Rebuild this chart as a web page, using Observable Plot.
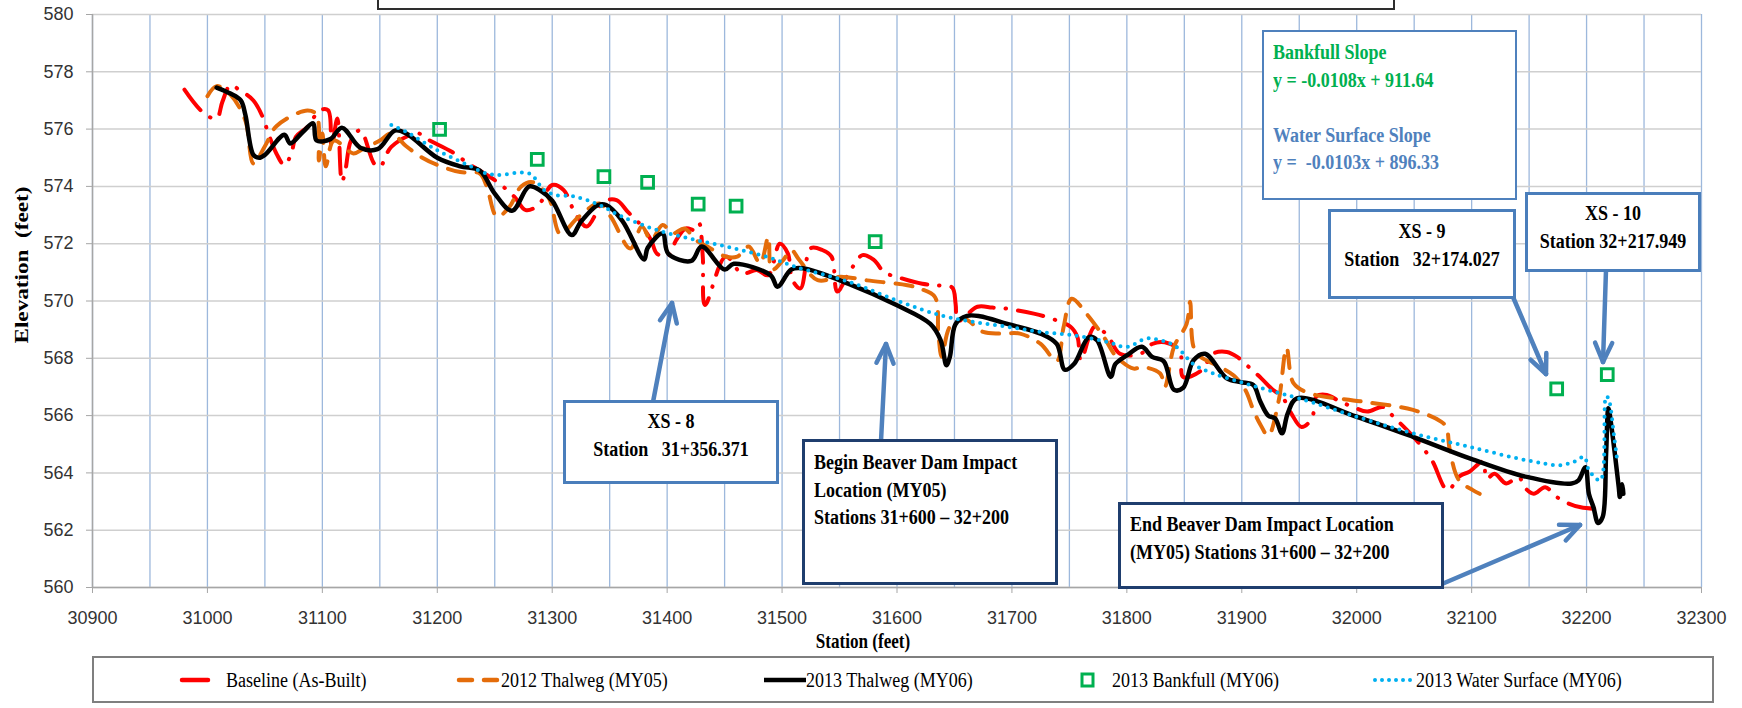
<!DOCTYPE html>
<html>
<head>
<meta charset="utf-8">
<script src="https://cdn.jsdelivr.net/npm/d3@7"></script>
<script src="https://cdn.jsdelivr.net/npm/@observablehq/plot@0.6"></script>
<style>
  body { margin: 0; background: #fff; }
  #wrap { position: relative; width: 1742px; height: 708px; overflow: hidden; background: #fff;
          font-family: "Liberation Serif", "Times New Roman", serif; }
  #chart { position: absolute; left: 0; top: 0; }
  .box { position: absolute; box-sizing: border-box; background: #fff; font-weight: bold;
         white-space: pre; color: #000; }
  .box .in { font-size: 20px; line-height: 27.5px; transform: scaleX(0.9); transform-origin: left top; }
  .box.center .in { text-align: center; transform-origin: center top; }
  .lg { position: absolute; font-size: 20px; line-height: 24px; white-space: pre; color: #000; top: 668px;
        transform: scaleX(0.9); transform-origin: left top; }
  .axtitle { position: absolute; font-weight: bold; font-size: 19px; white-space: pre; color: #000; line-height: 20px; }
</style>
</head>
<body>
<div id="wrap">
  <div id="chart"></div>
</div>
<script>
// ---------- data ----------
const xTicks = d3.range(30900, 32301, 100);
const xGrid = d3.range(30900, 32301, 50);
const yTicks = d3.range(560, 581, 2);

// Baseline (As-Built)
const baselineStation = [30980,30997,31008,31013,31020,31028,31040,31048,31053,31060,31067,31073,31077,31087,31098,31105,31108,31113,31117,31120,31125,31133,31145,31150,31160,31183,31193,31213,31227,31250,31267,31277,31288,31300,31310,31320,31330,31345,31356,31366,31376,31386,31391,31400,31408,31416,31425,31428,31431,31433,31451,31465,31478,31488,31498,31505,31509,31516,31525,31535,31543,31548,31558,31570,31580,31589,31600,31622,31635,31648,31651,31653,31670,31683,31696,31719,31730,31751,31757,31760,31772,31783,31794,31812,31822,31833,31846,31849,31865,31875,31887,31896,31906,31917,31927,31935,31943,31952,31961,31965,31974,31985,31997,32009,32023,32032,32048,32058,32066,32079,32090,32098,32110,32113,32120,32130,32141,32146,32154,32164,32174,32185,32195,32209];
const baselineElev = [577.38,576.55,576.37,576.95,577.53,577.36,577.0,576.43,575.85,575.15,574.74,575.15,575.73,576.08,576.66,576.66,575.38,576.37,574.16,574.56,575.61,575.96,574.8,574.68,575.38,575.85,575.61,575.2,574.8,574.22,573.64,573.17,573.35,574.05,573.87,573.06,572.6,573.47,573.52,573.1,572.7,572.13,571.66,571.55,572.13,572.53,572.47,572.7,571.55,569.86,571.55,570.96,571.08,570.9,572.0,571.66,570.73,570.44,571.84,571.78,571.55,570.33,570.96,571.6,571.43,571.0,570.84,570.6,570.55,570.47,569.9,569.3,569.8,569.77,569.73,569.56,569.44,569.1,568.74,567.93,569.1,568.8,568.16,568.16,568.5,568.56,568.27,567.35,567.58,568.16,568.22,568.05,567.7,567.3,566.9,566.67,566.08,565.6,565.9,566.67,566.72,566.5,566.3,566.14,566.3,565.96,565.32,564.85,564.4,563.4,563.9,564.04,564.4,563.8,563.97,563.63,563.86,563.5,563.27,563.5,563.16,562.92,562.8,562.74];

// 2012 Thalweg (MY05)
const thalweg2012Station = [31000,31008,31020,31033,31040,31050,31060,31087,31095,31097,31100,31103,31110,31127,31135,31150,31160,31173,31187,31200,31220,31237,31243,31252,31263,31273,31283,31297,31307,31323,31341,31351,31368,31378,31386,31396,31405,31415,31425,31435,31451,31461,31471,31481,31488,31491,31501,31508,31515,31531,31551,31574,31609,31620,31633,31636,31639,31646,31658,31675,31690,31707,31725,31739,31745,31752,31765,31780,31791,31806,31813,31829,31833,31841,31852,31855,31858,31864,31878,31893,31903,31910,31916,31923,31932,31939,31945,31959,32003,32049,32073,32078,32081,32089,32101,32107];
const thalweg2012Elev = [577.15,577.5,577.2,576.3,574.8,575.4,576.1,576.65,576.5,574.9,575.85,574.7,575.6,575.15,575.3,575.6,575.85,575.4,575.0,574.75,574.5,574.45,574.0,572.94,573.3,574.0,574.15,573.6,572.35,572.94,573.4,572.94,571.83,572.6,572.13,572.65,572.36,572.53,572.13,571.9,571.55,571.55,571.9,571.31,572.24,571.08,571.43,571.78,571.43,570.73,570.85,570.72,570.55,570.43,570.14,568.86,568.05,569.1,569.38,568.92,568.86,568.86,568.5,567.9,569.1,570.08,569.55,568.74,568.05,567.64,567.7,567.47,567.0,568.4,569.2,569.97,568.4,568.05,567.76,567.4,566.9,566.2,565.7,565.3,566.5,568.36,567.13,566.78,566.5,566.2,565.8,565.6,564.8,563.74,563.4,563.27];

// 2013 Thalweg (MY06)
const thalweg2013Station = [31008,31020,31029,31033,31040,31045,31050,31067,31072,31083,31092,31095,31107,31117,31133,31148,31163,31173,31200,31220,31237,31250,31265,31280,31290,31300,31317,31325,31340,31347,31361,31380,31383,31396,31401,31421,31430,31450,31458,31490,31496,31508,31518,31558,31600,31629,31638,31643,31646,31651,31661,31672,31696,31725,31739,31746,31754,31767,31774,31786,31790,31800,31813,31822,31832,31841,31849,31858,31868,31887,31899,31910,31916,31923,31929,31935,31940,31948,32000,32049,32099,32148,32187,32193,32199,32202,32206,32210,32214,32217,32219,32222,32228,32229,32231,32232];
const thalweg2013Elev = [577.45,577.24,577.0,576.5,575.1,575.0,575.1,575.8,575.5,575.9,576.2,575.6,575.65,576.05,575.35,575.3,575.95,575.85,575.0,574.7,574.55,573.75,573.15,574.0,573.85,573.5,572.3,572.77,573.35,573.35,572.8,571.45,571.85,572.35,571.65,571.4,571.9,571.1,571.3,570.9,570.5,571.1,571.14,570.6,569.85,569.2,568.63,567.76,568.05,569.2,569.48,569.47,569.2,568.86,568.5,567.6,567.8,568.74,568.63,567.35,567.8,568.1,568.4,568.05,567.9,566.9,566.97,567.93,568.16,567.3,567.17,567.07,566.5,566.0,565.9,565.38,566.08,566.6,565.96,565.26,564.5,563.86,563.63,563.74,564.2,563.27,562.8,562.25,562.46,564.68,566.26,565.5,563.5,563.16,563.6,563.27];

// 2013 Bankfull (MY06)
const bankfullStation = [31202,31287,31345,31383,31427,31460,31581,32174,32218];
const bankfullElev = [575.99,574.94,574.34,574.14,573.38,573.31,572.07,566.93,567.43];

// 2013 Water Surface (MY06)
const waterStation = [31160,31173,31200,31227,31243,31253,31280,31293,31303,31320,31341,31361,31391,31425,31458,31491,31511,31558,31601,31638,31667,31696,31725,31754,31783,31800,31817,31829,31843,31858,31875,31899,31922,31950,32000,32049,32099,32148,32177,32189,32198,32202,32212,32217,32219,32224,32227];
const waterElev = [576.14,575.9,575.26,574.74,574.45,574.4,574.45,573.87,573.7,573.64,573.35,572.94,572.48,572.13,571.84,571.49,571.2,570.67,570.0,569.5,569.27,569.1,568.92,568.8,568.57,568.4,568.69,568.63,568.4,567.8,567.47,567.17,566.9,566.6,565.96,565.38,564.9,564.44,564.27,564.39,564.56,564.1,563.74,566.67,566.6,565.26,564.33];

const seriesNames = ["Baseline (As-Built)", "2012 Thalweg (MY05)", "2013 Thalweg (MY06)", "2013 Bankfull (MY06)", "2013 Water Surface (MY06)"];

// ---------- build ----------
const rows = (sta, elev) => sta.map((s, i) => ({s, e: elev[i]}));
const baseline = rows(baselineStation, baselineElev);
const t2012 = rows(thalweg2012Station, thalweg2012Elev);
const t2013 = rows(thalweg2013Station, thalweg2013Elev);
const bank = rows(bankfullStation, bankfullElev);
const water = rows(waterStation, waterElev);

const C = {red: "#FF0000", orange: "#E46C0A", black: "#000000", green: "#00B050", blue: "#00B0F0"};

const chart = Plot.plot({
  width: 1742, height: 650,
  marginLeft: 92, marginRight: 41, marginTop: 14, marginBottom: 63,
  x: {domain: [30900, 32300]},
  y: {domain: [560, 580]},
  style: {fontFamily: "'Liberation Sans', Arial, sans-serif", fontSize: "18px", color: "#333", background: "transparent", overflow: "visible"},
  marks: [
    Plot.gridX(xGrid, {stroke: "#9DB8DC", strokeOpacity: 1, strokeWidth: 1.3}),
    Plot.gridY(yTicks, {stroke: "#CFCFCF", strokeOpacity: 1, strokeWidth: 1.5}),
    Plot.ruleY([560], {stroke: "#A6A6A6", strokeWidth: 1.5}),
    Plot.ruleX([30900], {stroke: "#A6A6A6", strokeWidth: 1.5}),
    Plot.axisX(xTicks, {tickSize: 6, tickPadding: 18, tickFormat: d => String(d), stroke: "#A6A6A6", fill: "#333", label: null}),
    Plot.axisY(yTicks, {tickSize: 6, tickPadding: 13, tickFormat: d => String(d), stroke: "#A6A6A6", fill: "#333", label: null}),
    Plot.line(baseline, {x: "s", y: "e", curve: "catmull-rom", stroke: C.red, strokeWidth: 4, strokeDasharray: "26 12 0.5 12", strokeLinecap: "round"}),
    Plot.line(t2012, {x: "s", y: "e", curve: "catmull-rom", stroke: C.orange, strokeWidth: 4, strokeDasharray: "17 12", strokeLinecap: "round"}),
    Plot.line(t2013, {x: "s", y: "e", curve: "catmull-rom", stroke: C.black, strokeWidth: 4.5}),
    Plot.dot(bank, {x: "s", y: "e", symbol: "square", r: 6.6, stroke: C.green, strokeWidth: 3, fill: "none"}),
    Plot.line(water, {x: "s", y: "e", curve: "catmull-rom", stroke: C.blue, strokeWidth: 4, strokeDasharray: "0 7.5", strokeLinecap: "round"})
  ]
});
document.getElementById("chart").appendChild(chart);

// ---------- annotations (layout in pixels) ----------
const wrap = document.getElementById("wrap");
const NS = "http://www.w3.org/2000/svg";
const ov = document.createElementNS(NS, "svg");
ov.setAttribute("width", 1742); ov.setAttribute("height", 708);
ov.style.position = "absolute"; ov.style.left = "0"; ov.style.top = "0";
wrap.appendChild(ov);
function seg(x1, y1, x2, y2, color, w) {
  const l = document.createElementNS(NS, "line");
  l.setAttribute("x1", x1); l.setAttribute("y1", y1); l.setAttribute("x2", x2); l.setAttribute("y2", y2);
  l.setAttribute("stroke", color); l.setAttribute("stroke-width", w); l.setAttribute("stroke-linecap", "round");
  ov.appendChild(l);
}
function arrow(x1, y1, x2, y2) {
  const col = "#4F81BD", w = 4.5;
  seg(x1, y1, x2, y2, col, w);
  const a = Math.atan2(y2 - y1, x2 - x1), L = 21, sp = 0.42;
  seg(x2, y2, x2 - L * Math.cos(a - sp), y2 - L * Math.sin(a - sp), col, w);
  seg(x2, y2, x2 - L * Math.cos(a + sp), y2 - L * Math.sin(a + sp), col, w);
}
arrow(653, 402, 672, 303);
arrow(881, 441, 886, 344);
arrow(1513, 297, 1546, 374);
arrow(1606, 270, 1603, 362);
arrow(1442, 584, 1580, 525);

function box(left, top, w, h, border, text, cls, pad) {
  const d = document.createElement("div");
  d.className = "box " + (cls || "");
  Object.assign(d.style, {left: left + "px", top: top + "px", width: w + "px", height: h + "px", border: border, padding: pad || "0"});
  if (text) {
    const inner = document.createElement("div");
    inner.className = "in";
    inner.innerHTML = text;
    d.appendChild(inner);
  }
  wrap.appendChild(d);
  return d;
}
// title frame (cropped)
box(377, -40, 1018, 50, "2.5px solid #2E2E2E", "");
// slope equations
box(1262, 30, 255, 170, "2px solid #4F81BD",
  '<span style="color:#00B050">Bankfull Slope\ny = -0.0108x + 911.64</span>\n\n<span style="color:#4F81BD">Water Surface Slope\ny =  -0.0103x + 896.33</span>',
  "", "7px 0 0 9px");
box(1328, 209, 188, 90, "3.5px solid #4A7EBB", "XS - 9\nStation   32+174.027", "center", "6px 0 0 0");
box(1525, 192, 176, 80, "3.5px solid #4A7EBB", "XS - 10\nStation 32+217.949", "center", "5px 0 0 0");
box(563, 400, 216, 84, "3.5px solid #4A7EBB", "XS - 8\nStation   31+356.371", "center", "5px 0 0 0");
box(802, 439, 256, 146, "3.5px solid #1F3E6E", "Begin Beaver Dam Impact\nLocation (MY05)\nStations 31+600 \u2013 32+200", "", "7px 0 0 9px");
box(1118, 502, 326, 87, "3.5px solid #1F3E6E", "End Beaver Dam Impact Location\n(MY05) Stations 31+600 \u2013 32+200", "", "6px 0 0 9px");

// axis titles
const yt = document.createElement("div");
yt.className = "axtitle"; yt.textContent = "Elevation  (feet)";
Object.assign(yt.style, {left: "21.5px", top: "265px", transform: "translate(-50%,-50%) rotate(-90deg) scaleX(1.22)"});
wrap.appendChild(yt);
const xt = document.createElement("div");
xt.className = "axtitle"; xt.textContent = "Station (feet)";
Object.assign(xt.style, {left: "863px", top: "642px", transform: "translate(-50%,-50%) scale(0.9, 1.05)"});
wrap.appendChild(xt);

// legend
const lgBox = document.createElement("div");
Object.assign(lgBox.style, {position: "absolute", left: "92px", top: "656px", width: "1622px", height: "47px", border: "2px solid #7F7F7F", boxSizing: "border-box", background: "#fff"});
wrap.appendChild(lgBox);
const lsv = document.createElementNS(NS, "svg");
lsv.setAttribute("width", 1742); lsv.setAttribute("height", 708);
lsv.style.position = "absolute"; lsv.style.left = "0"; lsv.style.top = "0";
wrap.appendChild(lsv);
function lline(x1, x2, color, w, dash, cap) {
  const l = document.createElementNS(NS, "line");
  l.setAttribute("x1", x1); l.setAttribute("x2", x2); l.setAttribute("y1", 680); l.setAttribute("y2", 680);
  l.setAttribute("stroke", color); l.setAttribute("stroke-width", w);
  if (dash) l.setAttribute("stroke-dasharray", dash);
  if (cap) l.setAttribute("stroke-linecap", cap);
  lsv.appendChild(l);
}
lline(182, 208, C.red, 4.5, null, "round");
lline(459, 499, C.orange, 4.5, "13 12", "round");
lline(764, 806, C.black, 4.5);
const sq = document.createElementNS(NS, "rect");
sq.setAttribute("x", 1082); sq.setAttribute("y", 674); sq.setAttribute("width", 11); sq.setAttribute("height", 12);
sq.setAttribute("fill", "none"); sq.setAttribute("stroke", C.green); sq.setAttribute("stroke-width", 3);
lsv.appendChild(sq);
lline(1375, 1414, C.blue, 4, "0 7", "round");
const lgX = [226, 501, 806, 1112, 1416];
seriesNames.forEach((n, i) => {
  const t = document.createElement("div");
  t.className = "lg"; t.textContent = n; t.style.left = lgX[i] + "px";
  wrap.appendChild(t);
});
</script>
</body>
</html>
